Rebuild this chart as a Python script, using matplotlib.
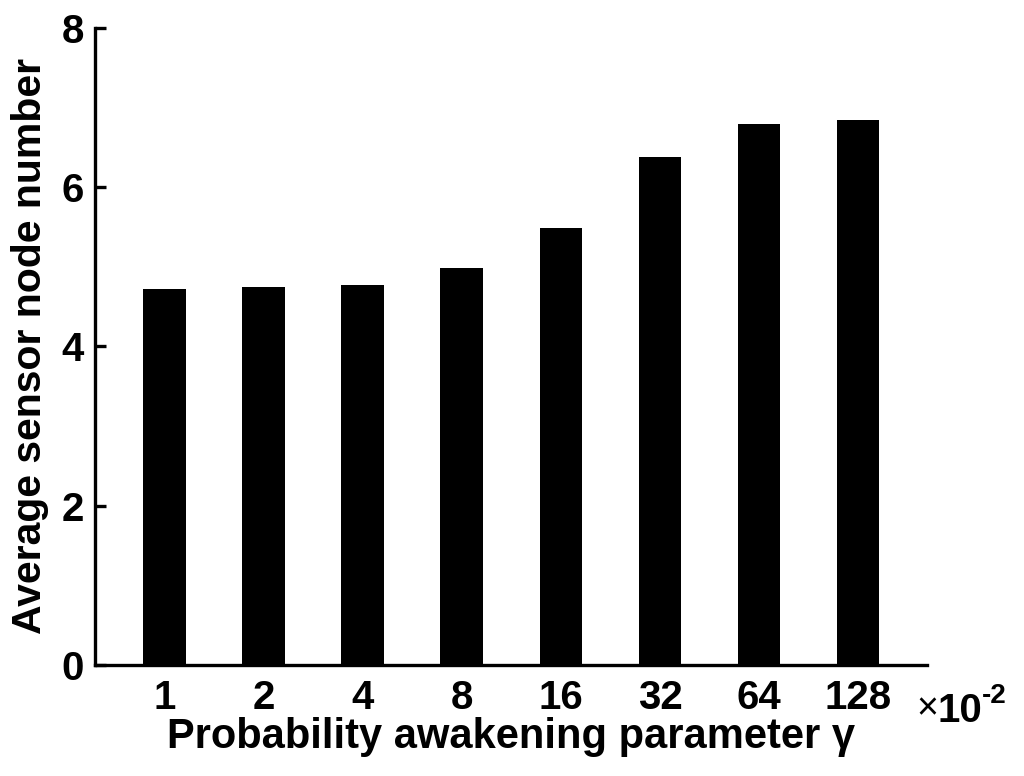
import numpy as np
import matplotlib.pyplot as plt

plt.rcParams['font.family'] = ['Liberation Sans', 'DejaVu Sans']
plt.rcParams['font.weight'] = 'bold'

gamma_labels = ['1', '2', '4', '8', '16', '32', '64', '128']
avg_nodes = [4.72, 4.75, 4.77, 4.99, 5.49, 6.38, 6.79, 6.84]

fig = plt.figure(figsize=(10.24, 7.76), dpi=100)
ax = fig.add_axes([0.0928, 0.143, 0.812, 0.821])

x = np.arange(1, len(avg_nodes) + 1)
ax.bar(x, avg_nodes, width=0.43, color='black')

ax.set_xlim(0.3, 8.69)
ax.set_ylim(0, 8)
ax.set_yticks([0, 2, 4, 6, 8])
ax.set_xticks(x)
ax.set_xticklabels(gamma_labels)

for s in ['top', 'right']:
    ax.spines[s].set_visible(False)
for s in ['left', 'bottom']:
    ax.spines[s].set_linewidth(2.4)

ax.tick_params(axis='y', direction='in', length=8, width=2.4, labelsize=29, pad=8)
ax.tick_params(axis='x', direction='in', length=0, labelsize=29, pad=10)

ax.set_xlabel('Probability awakening parameter γ', fontsize=30, fontweight='bold', labelpad=0)
ax.set_ylabel('Average sensor node number', fontsize=29.5, fontweight='bold', labelpad=9)

# exponent label at the right end of the x axis
fig.text(0.895, 0.073, '×', fontsize=27, fontweight='normal', va='baseline')
fig.text(0.916, 0.070, '10', fontsize=29, fontweight='bold', va='baseline')
fig.text(0.959, 0.094, '-2', fontsize=20, fontweight='bold', va='baseline')

fig.savefig('out.png', dpi=100)
